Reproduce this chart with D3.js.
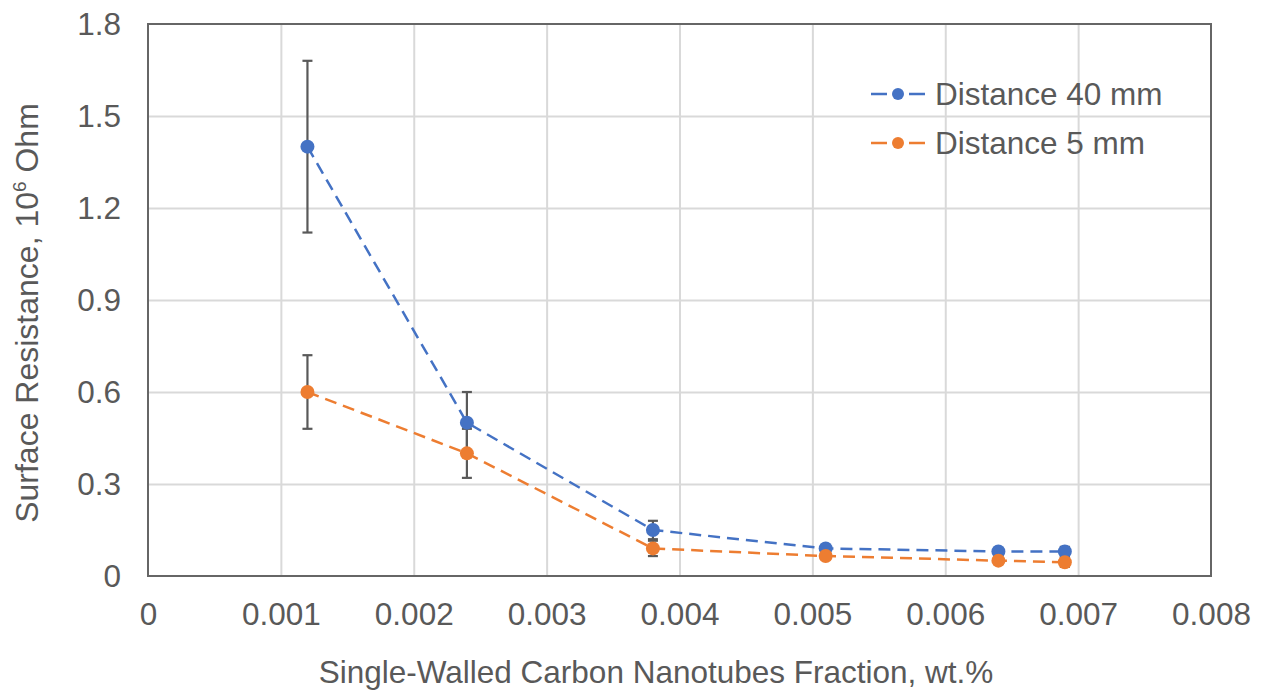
<!DOCTYPE html>
<html>
<head>
<meta charset="utf-8">
<script src="https://cdn.jsdelivr.net/npm/d3@7"></script>
<style>
  html, body { margin: 0; padding: 0; background: #fff; }
  svg { display: block; font-family: "Liberation Sans", Arial, sans-serif; }
</style>
</head>
<body>
<svg id="chart" width="1268" height="697"></svg>
<script>
// SWCNT fraction (wt.%) and surface resistance (10^6 Ohm) at two electrode distances
const fraction = [0.0012, 0.0024, 0.0038, 0.0051, 0.0064, 0.0069];
const dist40 = [1.40, 0.50, 0.15, 0.09, 0.08, 0.08];
const dist40Err = [0.28, 0.10, 0.03, 0.01, 0.01, 0.015];
const dist5 = [0.60, 0.40, 0.09, 0.065, 0.05, 0.045];
const dist5Err = [0.12, 0.08, 0.025, 0.01, 0.01, 0.015];
const seriesNames = ["Distance 40 mm", "Distance 5 mm"];
const xTicks = [0, 0.001, 0.002, 0.003, 0.004, 0.005, 0.006, 0.007, 0.008];
const yTicks = [0, 0.3, 0.6, 0.9, 1.2, 1.5, 1.8];

const colors = ["#4472C4", "#ED7D31"];
const textColor = "#595959";
const fontSize = 31.5;

const margin = { left: 148, right: 1211, top: 24, bottom: 576 };
const svg = d3.select("#chart");

const x = d3.scaleLinear().domain([0, 0.008]).range([margin.left, margin.right]);
const y = d3.scaleLinear().domain([0, 1.8]).range([margin.bottom, margin.top]);

// gridlines
svg.append("g")
  .attr("transform", `translate(0,${margin.bottom})`)
  .call(d3.axisBottom(x).tickValues(xTicks.slice(1, -1)).tickSize(-(margin.bottom - margin.top)).tickFormat(""))
  .call(g => g.select(".domain").remove())
  .call(g => g.selectAll("line").attr("stroke", "#d9d9d9").attr("stroke-width", 2));
svg.append("g")
  .attr("transform", `translate(${margin.left},0)`)
  .call(d3.axisLeft(y).tickValues(yTicks.slice(1, -1)).tickSize(-(margin.right - margin.left)).tickFormat(""))
  .call(g => g.select(".domain").remove())
  .call(g => g.selectAll("line").attr("stroke", "#d9d9d9").attr("stroke-width", 2));

// plot frame
svg.append("rect")
  .attr("x", margin.left).attr("y", margin.top)
  .attr("width", margin.right - margin.left).attr("height", margin.bottom - margin.top)
  .attr("fill", "none").attr("stroke", "#666").attr("stroke-width", 2);

// tick labels
svg.append("g")
  .attr("transform", `translate(0,${margin.bottom})`)
  .call(d3.axisBottom(x).tickValues(xTicks).tickSize(0).tickPadding(27).tickFormat(d => d === 0 ? "0" : d3.format(".3f")(d)))
  .call(g => g.select(".domain").remove())
  .call(g => g.selectAll("text").attr("fill", textColor).attr("font-size", fontSize).attr("font-family", "Liberation Sans, Arial, sans-serif"));
svg.append("g")
  .attr("transform", `translate(${margin.left},0)`)
  .call(d3.axisLeft(y).tickValues(yTicks).tickSize(0).tickPadding(27).tickFormat(d => d === 0 ? "0" : d3.format(".1f")(d)))
  .call(g => g.select(".domain").remove())
  .call(g => g.selectAll("text").attr("fill", textColor).attr("font-size", fontSize).attr("font-family", "Liberation Sans, Arial, sans-serif"));

// axis titles
svg.append("text")
  .attr("x", 656).attr("y", 683)
  .attr("text-anchor", "middle").attr("fill", textColor).attr("font-size", fontSize)
  .text("Single-Walled Carbon Nanotubes Fraction, wt.%");

const yTitle = svg.append("text")
  .attr("transform", "translate(38,313) rotate(-90)")
  .attr("text-anchor", "middle").attr("fill", textColor).attr("font-size", 32);
yTitle.append("tspan").text("Surface Resistance, 10");
yTitle.append("tspan").attr("font-size", 19).attr("dy", -12).text("6");
yTitle.append("tspan").attr("dy", 12).text(" Ohm");

// series
const series = [
  { name: seriesNames[0], vals: dist40, err: dist40Err, color: colors[0] },
  { name: seriesNames[1], vals: dist5, err: dist5Err, color: colors[1] }
];

const line = d3.line().x(d => x(d[0])).y(d => y(d[1]));
const capHalf = 5;

series.forEach(s => {
  const pts = fraction.map((f, i) => [f, s.vals[i], s.err[i]]);
  const eg = svg.append("g").attr("stroke", "#595959").attr("stroke-width", 2.2);
  pts.forEach(p => {
    eg.append("line").attr("x1", x(p[0])).attr("x2", x(p[0])).attr("y1", y(p[1] - p[2])).attr("y2", y(p[1] + p[2]));
    eg.append("line").attr("x1", x(p[0]) - capHalf).attr("x2", x(p[0]) + capHalf).attr("y1", y(p[1] + p[2])).attr("y2", y(p[1] + p[2]));
    eg.append("line").attr("x1", x(p[0]) - capHalf).attr("x2", x(p[0]) + capHalf).attr("y1", y(p[1] - p[2])).attr("y2", y(p[1] - p[2]));
  });
});

series.forEach(s => {
  const pts = fraction.map((f, i) => [f, s.vals[i]]);
  svg.append("path").datum(pts)
    .attr("d", line).attr("fill", "none")
    .attr("stroke", s.color).attr("stroke-width", 2.5).attr("stroke-dasharray", "12,7");
  svg.append("g").selectAll("circle").data(pts).join("circle")
    .attr("cx", d => x(d[0])).attr("cy", d => y(d[1])).attr("r", 7)
    .attr("fill", s.color);
});

// legend
const legend = svg.append("g");
series.forEach((s, i) => {
  const cy = 94 + i * 49;
  legend.append("line").attr("x1", 871).attr("x2", 928).attr("y1", cy).attr("y2", cy)
    .attr("stroke", s.color).attr("stroke-width", 2.5).attr("stroke-dasharray", "16,6,0,4,6,6");
  legend.append("circle").attr("cx", 898).attr("cy", cy).attr("r", 6).attr("fill", s.color);
  legend.append("text").attr("x", 935).attr("y", cy + 11)
    .attr("fill", textColor).attr("font-size", fontSize).text(s.name);
});
</script>
</body>
</html>
